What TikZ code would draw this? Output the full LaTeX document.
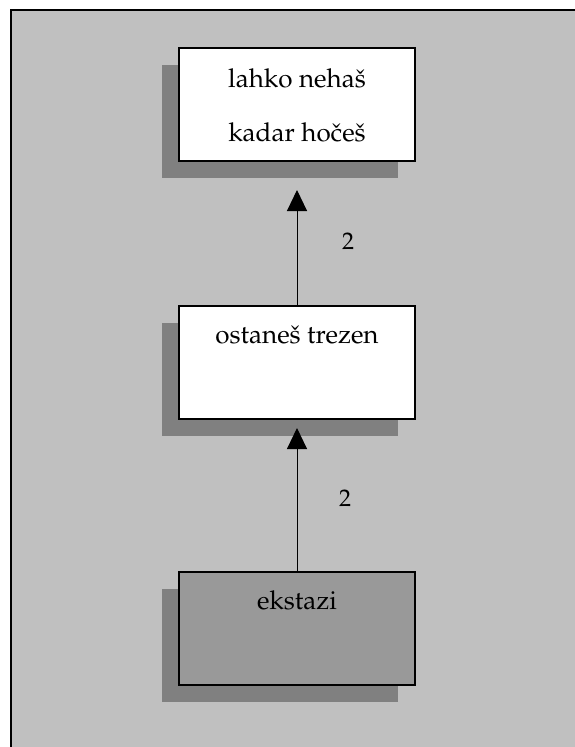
\documentclass[tikz,border=0pt]{standalone}
\usepackage[T1]{fontenc}
\usepackage{mathpazo}
\usetikzlibrary{positioning,arrows.meta,shadows}
\definecolor{panelgray}{HTML}{C0C0C0}
\definecolor{shadowgray}{HTML}{808080}
\definecolor{darkbox}{HTML}{999999}
\tikzstyle{block} = [draw, line width=2pt, fill=white, rectangle,
    minimum width=236pt, minimum height=113pt, inner sep=0pt,
    general shadow={fill=shadowgray, shadow xshift=-17pt, shadow yshift=-17pt}]
\tikzstyle{caption} = [font=\fontsize{26}{30}\selectfont, inner sep=0pt]
\tikzstyle{weight} = [font=\fontsize{24}{28}\selectfont, inner sep=0pt]
\tikzstyle{link} = [line width=1pt, -{Triangle[length=21pt,width=20pt]}]

\begin{document}
\begin{tikzpicture}[x=1pt, y=-1pt]
	  \useasboundingbox (0,0) rectangle (574,747);
	  \draw [line width=2pt, fill=panelgray] (11,10) rectangle (600,770);
	  \node [block] (nehas) at (297,104.5) {};
	  \node [block] (trezen) at (297,362.5) {};
	  \node [block, fill=darkbox] (ekstazi) at (297,628.5) {};
	  \node [caption, below=40pt of nehas.north, anchor=base] (nehastxt) {lahko neha\v{s}};
	  \node [caption, below=94pt of nehas.north, anchor=base] (hocestxt) {kadar ho\v{c}e\v{s}};
	  \node [caption, below=38pt of trezen.north, anchor=base] (trezentxt) {ostane\v{s} trezen};
	  \node [caption, below=38pt of ekstazi.north, anchor=base] (ekstazitxt) {ekstazi};
	  \draw [link] (trezen.north) -- ([yshift=-28pt]nehas.south);
	  \draw [link] (ekstazi.north) -- ([yshift=-8pt]trezen.south);
	  \node [weight] (w1) at (348,241) {2};
	  \node [weight] (w2) at (345,498) {2};
	\end{tikzpicture}
\end{document}
